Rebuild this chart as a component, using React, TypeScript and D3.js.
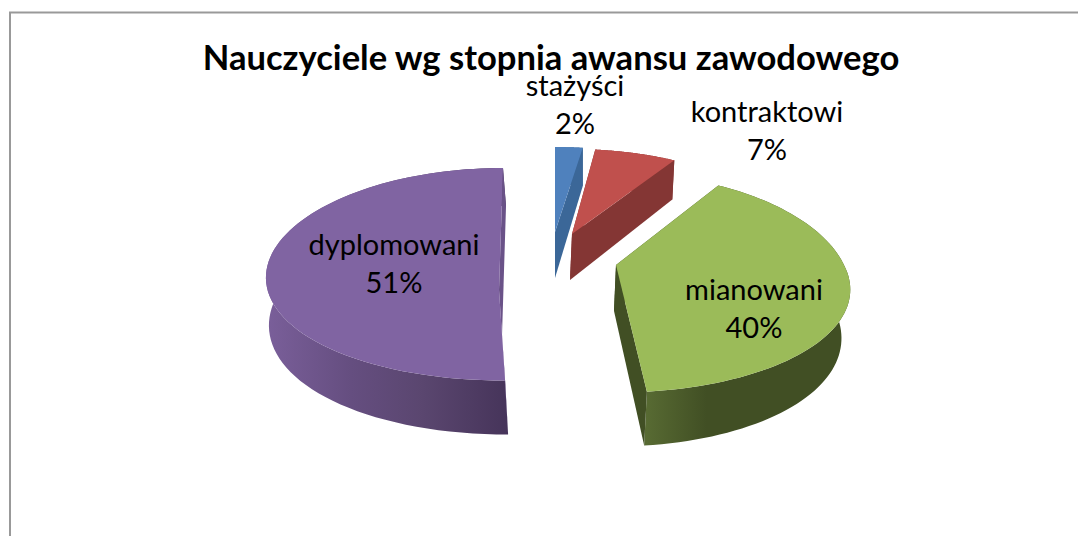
import React, { useMemo } from "react";
import * as d3 from "d3";

const categories = ["stażyści", "kontraktowi", "mianowani", "dyplomowani"];
const shares = [2, 7, 40, 51];
const title = "Nauczyciele wg stopnia awansu zawodowego";

const FONT = "Lato, 'Open Sans', sans-serif";
const W = 1078, H = 536;
const RX = 228, RY = 102, PERSP_X = 0.23, PERSP_Y = 0.2;

// Each exploded slice has its own position on the page; these describe the look, not the values.
const looks = [
  { hx: 555, hy: 232, trimA: 0, trimB: 1.4, dx: 0, narrow: 0, rxK: 1, backK: 1, top: "#4f81bd", cut: "#3b6798", wall: "#3b6798" },
  { hx: 572, hy: 234, trimA: 0, trimB: 0, dx: -2, narrow: 0, rxK: 1, backK: 1, top: "#c0504d", cut: "#843634", wall: "#843634" },
  { hx: 616, hy: 265, trimA: 0, trimB: -2.4, dx: -2, narrow: 7, rxK: 1, backK: 1.08, top: "#9bbb59", cut: "#414f24", wall: "url(#wall-2)" },
  { hx: 503, hy: 253, trimA: 3.2, trimB: 0, dx: 3, narrow: 0, rxK: 1.012, backK: 1, top: "#8064a2", cut: "#6a5288", wall: "url(#wall-3)", ax: 499, ay: 290 },
];
const labelSpots = [
  { x: 575, y: 96 }, { x: 767, y: 122 }, { x: 754, y: 300 }, { x: 394, y: 255 },
];

const toPath = d3.line<[number, number]>();

export default function App() {
  const arcs = useMemo(() => d3.pie<number>().sort(null).startAngle(0).endAngle(2 * Math.PI)(shares), []);
  const scaleX = d3.scaleLinear().domain([-1, 1]).range([-RX, RX]);
  const scaleY = d3.scaleLinear().domain([-1, 1]).range([RY, -RY]);

  return (
    <div style={{ position: "fixed", left: 0, top: 0 }}>
      <svg width={W} height={H} style={{ display: "block", background: "#fff" }} fontFamily={FONT}>
        <defs>
          <linearGradient id="wall-3" gradientUnits="userSpaceOnUse" x1={266} x2={508} y1={0} y2={0}>
            <stop offset="0" stopColor="#7a5f9a" />
            <stop offset="0.35" stopColor="#654e80" />
            <stop offset="0.65" stopColor="#5a466f" />
            <stop offset="1" stopColor="#46345a" />
          </linearGradient>
          <linearGradient id="wall-2" gradientUnits="userSpaceOnUse" x1={645} x2={850} y1={0} y2={0}>
            <stop offset="0" stopColor="#586b33" />
            <stop offset="0.3" stopColor="#414f24" />
            <stop offset="1" stopColor="#414f24" />
          </linearGradient>
        </defs>
        <path d="M10,536V12.5H1078" fill="none" stroke="#999" strokeWidth={2} />
        {arcs.map((a, i) => {
          const L = looks[i];
          const a0 = a.startAngle + (L.trimA * Math.PI) / 180;
          const a1 = a.endAngle + (L.trimB * Math.PI) / 180;
          const rim = (t: number): [number, number] => {
            const c = Math.cos(t);
            const back = c > 0 ? L.backK : 1;
            return [
              L.hx + (scaleX(Math.sin(t)) * L.rxK) / (1 + PERSP_X * c),
              L.hy + (scaleY(c) * back) / (1 + PERSP_Y * c),
            ];
          };
          const drop = (p: [number, number], t: number): [number, number] => [
            p[0] + L.dx - L.narrow * Math.max(0, Math.sin(t)),
            p[1] + 46 - 8 * Math.cos(t),
          ];
          const ts = d3.range(0, 81).map((k) => a0 + ((a1 - a0) * k) / 80);
          const upper = ts.map(rim);
          const lower = ts.map((t) => drop(rim(t), t));
          const apex: [number, number] = [L.ax ?? L.hx, L.ay ?? L.hy];
          const apexLow: [number, number] = [apex[0] + L.dx, apex[1] + 46];
          const cutA = [upper[0], lower[0], apexLow, apex] as [number, number][];
          const cutB = [upper[80], lower[80], apexLow, apex] as [number, number][];
          return (
            <g key={categories[i]}>
              <path d={toPath([...upper, ...lower.slice().reverse()]) + "Z"} fill={L.wall} />
              <path d={toPath(cutA) + "Z"} fill={L.cut} />
              <path d={toPath(cutB) + "Z"} fill={L.cut} />
              <path d={toPath([apex, ...upper]) + "Z"} fill={L.top} />
            </g>
          );
        })}
        <text x={551} y={70} textAnchor="middle" fontSize={34.6} fontWeight={700} fill="#000">{title}</text>
        {categories.map((c, i) => (
          <text key={c} textAnchor="middle" fontSize={29} fill="#000">
            <tspan x={labelSpots[i].x} y={labelSpots[i].y}>{c}</tspan>
            <tspan x={labelSpots[i].x} y={labelSpots[i].y + 38}>{shares[i]}%</tspan>
          </text>
        ))}
      </svg>
    </div>
  );
}
